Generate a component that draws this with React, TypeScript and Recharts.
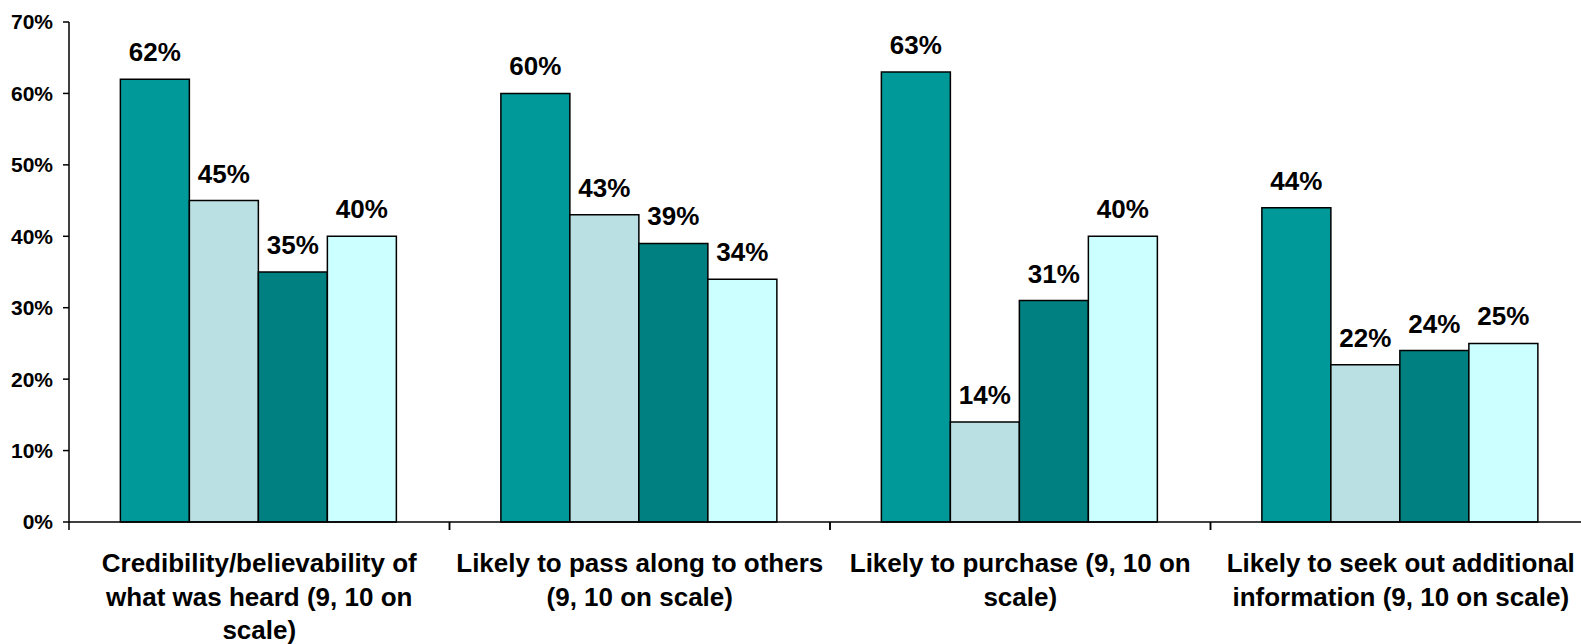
import React from "react";
import { BarChart, Bar, XAxis, YAxis, LabelList } from "recharts";

const categories = [
  "Credibility/believability of what was heard (9, 10 on scale)",
  "Likely to pass along to others (9, 10 on scale)",
  "Likely to purchase (9, 10 on scale)",
  "Likely to seek out additional information (9, 10 on scale)",
];
const categoryLines = [
  ["Credibility/believability of", "what was heard (9, 10 on", "scale)"],
  ["Likely to pass along to others", "(9, 10 on scale)"],
  ["Likely to purchase (9, 10 on", "scale)"],
  ["Likely to seek out additional", "information (9, 10 on scale)"],
];
const series1 = [62, 60, 63, 44];
const series2 = [45, 43, 14, 22];
const series3 = [35, 39, 31, 24];
const series4 = [40, 34, 40, 25];
const yTicks = [0, 10, 20, 30, 40, 50, 60, 70];

const data = categories.map((name, i) => ({
  name,
  s1: series1[i],
  s2: series2[i],
  s3: series3[i],
  s4: series4[i],
}));

const FONT = "'Liberation Sans', Arial, sans-serif";
const CHART_W = 1595;
const CHART_H = 644;
const MARGIN = { top: 22, right: 4, left: 0, bottom: 0 };
const Y_AXIS_W = 69;
const BAND = (CHART_W - MARGIN.left - MARGIN.right - Y_AXIS_W) / categories.length;

function BottomTick(props: any) {
  const { x, y, index } = props;
  const lines = categoryLines[index] || [];
  return (
    <g>
      <line x1={x - BAND / 2} x2={x - BAND / 2} y1={y} y2={y + 8} stroke="#000" strokeWidth={1.5} />
      <line x1={x + BAND / 2} x2={x + BAND / 2} y1={y} y2={y + 8} stroke="#000" strokeWidth={1.5} />
      <text x={x} y={y} textAnchor="middle" fontSize={26} fontWeight="bold" fontFamily={FONT} fill="#000">
        {lines.map((l, k) => (
          <tspan key={k} x={x} dy={k === 0 ? 50 : 33.5}>
            {l}
          </tspan>
        ))}
      </text>
    </g>
  );
}

const pct = (v: any) => `${v}%`;
const labelProps = { position: "top" as const, offset: 18, formatter: pct, fill: "#000", fontSize: 26, fontWeight: "bold", fontFamily: FONT };

export default function App() {
  return (
    <div style={{ position: "absolute", left: 0, top: 0, width: 1581, height: 644, overflow: "hidden", background: "#fff" }}>
      <BarChart
        width={CHART_W}
        height={CHART_H}
        data={data}
        margin={MARGIN}
        barCategoryGap="13.5%"
        barGap={0}
      >
        <XAxis
          dataKey="name"
          interval={0}
          height={122}
          tickLine={false}
          tickSize={0}
          tickMargin={0}
          axisLine={{ stroke: "#000", strokeWidth: 1.5 }}
          tick={<BottomTick />}
        />
        <YAxis
          domain={[0, 70]}
          ticks={yTicks}
          interval={0}
          width={Y_AXIS_W}
          tickSize={6}
          tickMargin={10}
          tickFormatter={pct}
          axisLine={{ stroke: "#000", strokeWidth: 1.5 }}
          tickLine={{ stroke: "#000", strokeWidth: 1.5 }}
          tick={{ fill: "#000", fontSize: 21, fontWeight: "bold", fontFamily: FONT }}
        />
        <Bar dataKey="s1" fill="#009999" stroke="#000" strokeWidth={1.5} isAnimationActive={false}>
          <LabelList dataKey="s1" {...labelProps} />
        </Bar>
        <Bar dataKey="s2" fill="#BBE0E3" stroke="#000" strokeWidth={1.5} isAnimationActive={false}>
          <LabelList dataKey="s2" {...labelProps} />
        </Bar>
        <Bar dataKey="s3" fill="#008080" stroke="#000" strokeWidth={1.5} isAnimationActive={false}>
          <LabelList dataKey="s3" {...labelProps} />
        </Bar>
        <Bar dataKey="s4" fill="#CCFFFF" stroke="#000" strokeWidth={1.5} isAnimationActive={false}>
          <LabelList dataKey="s4" {...labelProps} />
        </Bar>
      </BarChart>
    </div>
  );
}
